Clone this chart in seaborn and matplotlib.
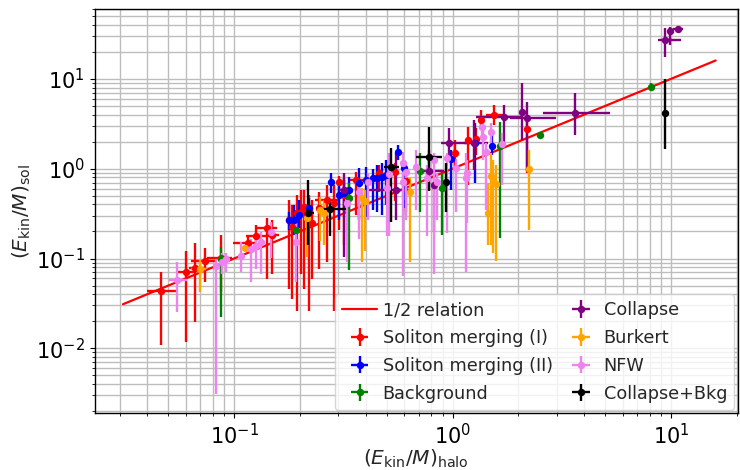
import numpy as np
import matplotlib
matplotlib.use("Agg")
import matplotlib.pyplot as plt
import seaborn as sns

# ---------------- data ----------------
relation_x = [0.031, 16.0]
relation_y = [0.031, 16.0]

# Soliton merging (I)
sm1_x = [.0464, .0604, .0664, .0737, .0873, .1159, .126, .1415, .1492, .178, .184, .194, .202, .209, .22, .227,
         .2444, .266, .286, .3015, .318, .3605, .459, .61, 1.021, 1.17, 1.274, 1.342, 1.555, 2.198, .545]
sm1_y = [.043, .0699, .0774, .095, .1026, .147, .18, .221, .185, .271, .227, .324, .333, .378, .308, .251,
         .369, .453, .419, .71, .514, .755, .903, .736, 1.51, 2.10, 2.15, 3.50, 3.98, 2.78, .926]
sm1_ylo = [.0108, .0117, .0195, .0541, .0419, .1197, .1325, .0585, .0664, .0453, .035, .0258, .0664, .0453, .0258, .0585,
           .0755, .0926, .0258, .21, .143, .308, .555, .333, .975, .664, 1.43, 2.71, 3.08, .903, .441]
sm1_yhi = [.0699, .1197, .147, .1325, .185, .176, .239, .286, .271, .453, .398, .514, .585, .585, .514, .453,
           .555, .664, .664, .836, .794, .926, 1.11, .95, 2.10, 2.93, 2.85, 4.52, 5.14, 3.69, 1.17]
sm1_xlo = [.0397, .0549, .0623, .0636, .0753, .0989, .1135, .1274, .1415, .178, .184, .194, .202, .209, .22, .227,
           .2444, .2344, .286, .3015, .318, .335, .459, .61, 1.021, 1.17, 1.274, 1.342, 1.429, 2.198, .545]
sm1_xhi = [.0543, .0664, .0714, .0828, .098, .1274, .1445, .157, .16, .178, .184, .194, .202, .209, .22, .227,
           .2444, .3015, .286, .3015, .318, .3925, .459, .61, 1.021, 1.17, 1.274, 1.342, 1.71, 2.198, .545]

# Soliton merging (II)
sm2_x = [.178, .188, .198, .22, .2773, .3015, .318, .372, .401, .45, .474, .494, .561, .597, .979, 1.26, 1.507, .335, .43]
sm2_y = [.271, .271, .308, .369, .717, .514, .541, .699, .755, .794, .815, .858, 1.55, 1.03, 1.29, 1.94, 1.80, .585, .794]
sm2_ylo = [.21, .185, .221, .258, .541, .271, .341, .271, .293, .333, .308, .398, 1.26, .369, .585, .699, 1.43, .35, .35]
sm2_yhi = [.333, .398, .453, .476, .903, .755, .755, 1.03, 1.05, 1.11, 1.17, 1.26, 1.85, 1.26, 1.63, 3.24, 2.58, .815, 1.0]

# Background
bg_x = [.0873, .192, .335, .706, .891, 1.64, 2.523, 8.11]
bg_y = [.0975, .205, .476, .94, .615, 1.80, 2.39, 8.15]
bg_ylo = [.0221, .176, .0736, .333, .185, .171, 2.27, 7.55]
bg_yhi = [.136, .35, .699, 1.51, .903, 3.33, 2.58, 9.03]

# Collapse
col_x = [.318, .549, .777, .819, .959, 1.247, 1.71, 2.088, 2.198, 3.645, 9.39, 9.89, 10.77]
col_y = [.585, .585, .95, .664, 1.94, 1.94, 3.78, 4.30, 3.69, 4.19, 27.1, 34.1, 35.9]
col_ylo = [.1052, .271, .585, .1995, 1.26, .975, 1.75, 2.10, .933, 2.39, 17.6, 23.9, 34.1]
col_yhi = [.903, 1.51, 1.63, .975, 2.85, 3.50, 5.14, 9.03, 5.55, 6.99, 36.9, 37.8, 37.8]
col_xlo = [.3015, .413, .678, .819, .881, 1.122, 1.274, 2.088, 1.84, 2.605, 8.73, 9.89, 10.2]
col_xhi = [.335, .65, .91, .819, 1.315, 1.459, 2.109, 2.088, 2.985, 5.26, 11.1, 9.89, 11.35]

# Burkert
bur_x = [.07, .1122, .2155, .247, .2576, .384, .396, .636, 1.459, 1.492, 1.538, 1.588, 2.248]
bur_y = [.0755, .1325, .286, .35, .324, .476, .441, .555, .324, .836, .755, .681, 1.0]
bur_ylo = [.0419, .126, .1052, .156, .143, .0903, .1197, .0926, .14, .143, .116, .095, .21]
bur_yhi = [.0975, .14, .378, .489, .453, .615, .585, .794, .699, 1.51, 1.26, 1.11, 1.63]
bur_xlo = [.0636, .1088, .2155, .247, .2576, .384, .396, .636, 1.459, 1.492, 1.538, 1.588, 2.248]
bur_xhi = [.0745, .1274, .2155, .247, .2576, .384, .396, .636, 1.459, 1.492, 1.538, 1.588, 2.248]

# NFW
nfw_x = [.0549, .0828, .0882, .0919, .1076, .1197, .126, .1328, .1476, .192, .328, .372, .409, .5, .51, .591,
         .591, .61, .678, .76, .819, .845, .939, 1.032, 1.147, 1.159, 1.356, 1.371, 1.429, 1.492, 1.675]
nfw_y = [.057, .0815, .0926, .0975, .108, .129, .1395, .151, .1995, .151, .419, .555, .717, .615, .88, 1.17,
         .717, .926, 1.05, .794, 1.26, .717, 1.32, 1.03, .794, .903, 2.93, 2.27, 1.55, 2.58, 1.90]
nfw_ylo = [.0251, .00308, .0664, .0699, .0699, .0541, .0755, .0664, .1026, .0541, .0903, .163, .271, .176, .176, .453,
           .0631, .271, .35, .176, .0664, .271, .1945, .333, .0699, .251, 2.10, 1.26, .35, 1.94, .664]
nfw_yhi = [.0903, .0975, .1137, .1137, .151, .163, .171, .1995, .258, .271, .631, .755, .903, .815, 1.51, 1.55,
           1.26, 1.17, 1.63, 1.11, 1.51, .903, 1.51, 1.29, 1.51, 1.26, 3.69, 3.08, 1.94, 3.24, 2.51]
nfw_xlo = [.0505] + nfw_x[1:]
nfw_xhi = [.061] + nfw_x[1:]

# Collapse+Bkg
cb_x = [.218, .274, .521, .777, .929, 9.39]
cb_y = [.324, .359, 1.05, 1.36, .717, 4.19]
cb_ylo = [.143, .176, .258, .57, .333, 1.65]
cb_yhi = [.755, .453, 1.71, 2.93, 1.17, 10.0]
cb_xlo = [.2065, .2366, .484, .678, .929, 9.39]
cb_xhi = [.232, .3245, .567, .891, .929, 9.39]

series = [
    ("Soliton merging (I)", "red", sm1_x, sm1_y, sm1_ylo, sm1_yhi, sm1_xlo, sm1_xhi),
    ("Soliton merging (II)", "blue", sm2_x, sm2_y, sm2_ylo, sm2_yhi, None, None),
    ("Background", "green", bg_x, bg_y, bg_ylo, bg_yhi, None, None),
    ("Collapse", "purple", col_x, col_y, col_ylo, col_yhi, col_xlo, col_xhi),
    ("Burkert", "orange", bur_x, bur_y, bur_ylo, bur_yhi, bur_xlo, bur_xhi),
    ("NFW", "violet", nfw_x, nfw_y, nfw_ylo, nfw_yhi, nfw_xlo, nfw_xhi),
    ("Collapse+Bkg", "black", cb_x, cb_y, cb_ylo, cb_yhi, cb_xlo, cb_xhi),
]

# ---------------- plot ----------------
sns.set_style("ticks")
plt.rcParams["font.family"] = ["DejaVu Sans"]

fig = plt.figure(figsize=(7.4, 4.7), dpi=100)
ax = fig.add_axes([0.128, 0.121, 0.869, 0.860])
ax.set_xscale("log")
ax.set_yscale("log")

sns.lineplot(x=relation_x, y=relation_y, color="red", lw=1.6, ax=ax, label="1/2 relation")

for name, c, x, y, ylo, yhi, xlo, xhi in series:
    x = np.asarray(x); y = np.asarray(y)
    yerr = [y - np.asarray(ylo), np.asarray(yhi) - y]
    if xlo is None:
        xerr = [np.zeros_like(x), np.zeros_like(x)]
    else:
        xerr = [x - np.asarray(xlo), np.asarray(xhi) - x]
    ax.errorbar(x, y, yerr=yerr, xerr=xerr, fmt="o", color=c, ms=4.3,
                elinewidth=1.7, capsize=0, label=name)

ax.set_xlim(0.023, 20.2)
ax.set_ylim(0.0019, 60)
ax.grid(True, which="both", color="#bdbdbd", lw=1.0)
ax.set_axisbelow(True)
for s in ax.spines.values():
    s.set_color("black")
    s.set_linewidth(1.0)
ax.tick_params(which="both", direction="out", colors="black", labelsize=15)

ax.set_xlabel(r"$(E_{\rm kin}/M)_{\rm halo}$", fontsize=14.5, labelpad=0)
ax.set_ylabel(r"$(E_{\rm kin}/M)_{\rm sol}$", fontsize=14.5, labelpad=2)

ax.legend(loc="lower right", ncol=2, fontsize=12.7, framealpha=0.8,
          borderaxespad=0.2, handlelength=2.0, handletextpad=0.3,
          columnspacing=0.6, borderpad=0.4, labelspacing=0.55)

fig.savefig("out.png", dpi=100)
